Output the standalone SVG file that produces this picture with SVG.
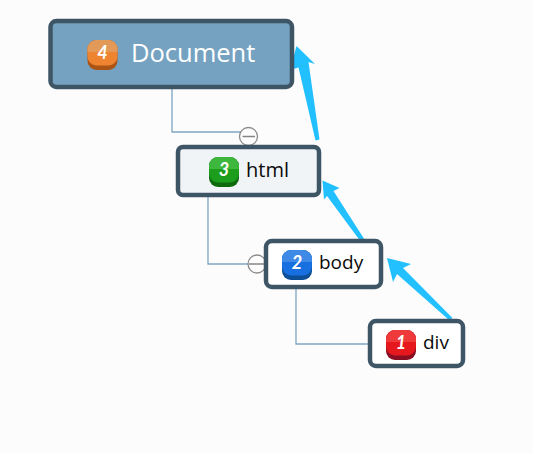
<svg xmlns="http://www.w3.org/2000/svg" width="533" height="454" viewBox="0 0 533 454">
<style>
.box{stroke:#3e5566;stroke-width:4.500}
.lnk{fill:none;stroke:#7ea6c2;stroke-width:1.300}
.arr{fill:#23c0ff;stroke:none}
.col{fill:#fdfdfd;stroke:#8a8a8a;stroke-width:1.300}
.dash{stroke:#848484;stroke-width:1.500}
text{font-family:"Open Sans","Liberation Sans",sans-serif}
.lab{fill:#0a0a0a;font-size:19px}
.num{fill:#fff;font-family:"Lato","Liberation Sans",sans-serif;font-weight:700;font-style:italic;font-size:18px;text-anchor:middle}
</style>
<defs>
<g id="ico">
<rect x="0" y="0" width="30" height="30" rx="9" fill="var(--d)"/>
<rect x="0" y="0" width="30" height="25.500" rx="9" fill="var(--m)"/>
<path d="M0 12V9a9 9 0 0 1 9-9H21a9 9 0 0 1 9 9V12Z" fill="var(--l)"/>
</g>
</defs>
<rect width="533" height="454" fill="#fcfcfd"/>
<g id="connectors">
<path class="lnk" d="M172 88V132H242"/>
<path class="lnk" d="M208 196V264H250"/>
<path class="lnk" d="M296 288V344H369"/>
<polygon class="arr" points="315.500,140.500 319.500,139.500 308.500,62 315,64 296.500,46 290,70 298.500,67.500"/>
<polygon class="arr" points="361,242 365.500,241 333.500,191 339.500,188 322.500,180.500 324,199.500 327,196"/>
<polygon class="arr" points="449,320 452.500,318 403,268 411,264 387,258 393,282 397,274"/>
</g>
<g id="node-document">
<rect class="box" x="50.500" y="21" width="241.500" height="66" rx="6" fill="#75a2c0"/>
<use href="#ico" x="87.500" y="40" style="--d:#ab5414;--m:#ee8430;--l:#e39a58"/>
<text class="num" x="102.500" y="59">4</text>
<text x="131" y="62" font-size="25.500" fill="#fff">Document</text>
</g>
<g id="node-html">
<circle class="col" cx="248.500" cy="136.500" r="9"/>
<path class="dash" d="M242.500 136.500H255"/>
<rect class="box" x="178" y="147" width="141" height="48" rx="5" fill="#f0f4f7"/>
<use href="#ico" x="209" y="157" style="--d:#0f6a0e;--m:#1c9e1c;--l:#3db73d"/>
<text class="num" x="224" y="176">3</text>
<text class="lab" x="246" y="177" style="font-size:20px">html</text>
</g>
<g id="node-body">
<circle class="col" cx="257" cy="264" r="9"/>
<path class="dash" d="M249 264H264"/>
<rect class="box" x="266" y="241" width="115" height="46" rx="6" fill="#fff"/>
<use href="#ico" x="282" y="250" style="--d:#0c4f96;--m:#176fe0;--l:#3f8ae6"/>
<text class="num" x="297" y="269">2</text>
<text class="lab" x="319" y="269">body</text>
</g>
<g id="node-div">
<rect class="box" x="370" y="321" width="93" height="45" rx="6" fill="#fff"/>
<use href="#ico" x="386" y="330" style="--d:#8a0e22;--m:#e5181e;--l:#ee3a3a"/>
<text class="num" x="401" y="349">1</text>
<text class="lab" x="423" y="348.500">div</text>
</g>
</svg>
